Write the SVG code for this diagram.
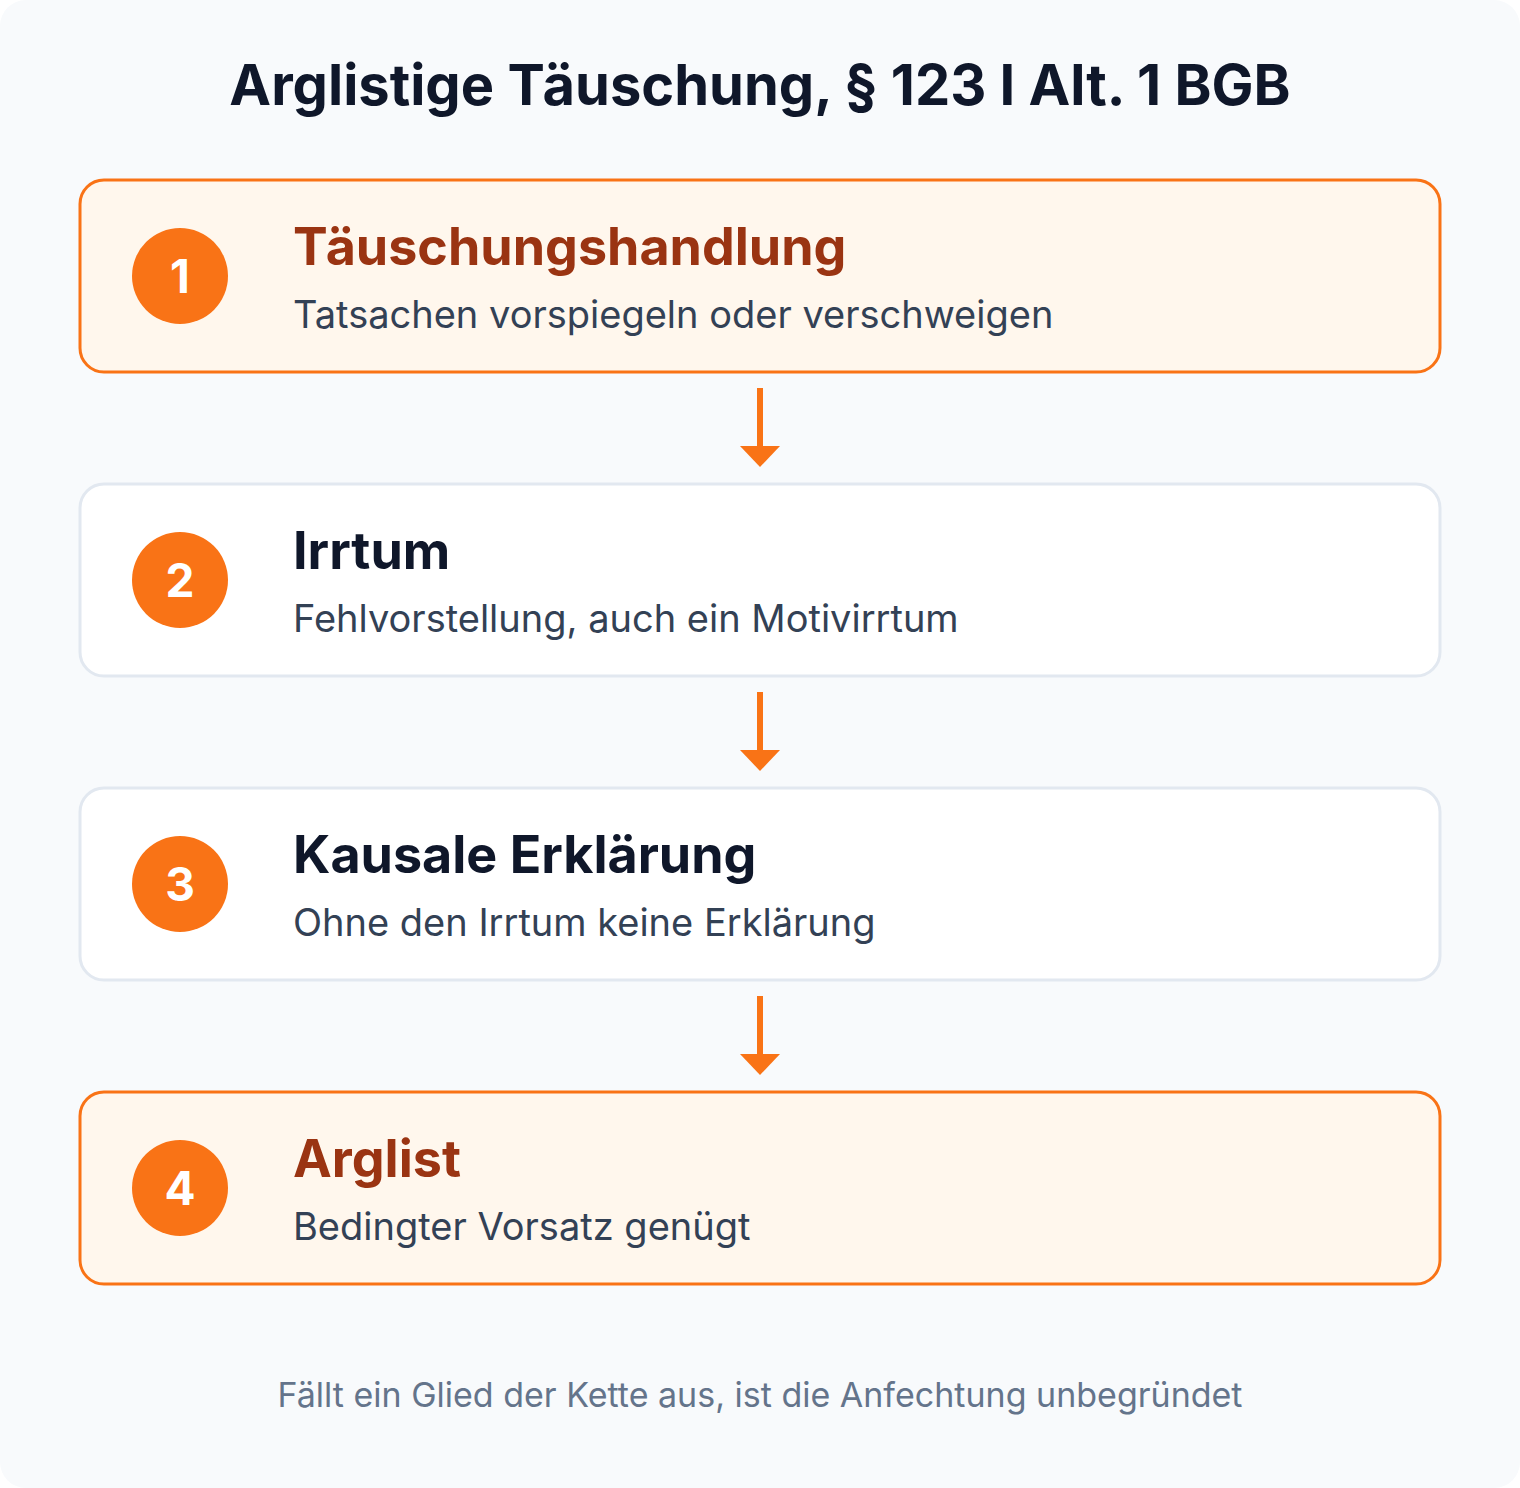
<svg xmlns="http://www.w3.org/2000/svg" width="1520" height="1488" viewBox="0 0 1520 1488">
<style>
.bg{fill:#f8fafc}
.hl{fill:#fff7ed;stroke:#f97316;stroke-width:3}
.pl{fill:#ffffff;stroke:#e2e8f0;stroke-width:3}
.dot{fill:#f97316}
.num{font-family:Inter,"Liberation Sans",sans-serif;font-weight:700;font-size:46px;fill:#ffffff;text-anchor:middle}
.h{font-family:Inter,"Liberation Sans",sans-serif;font-weight:700;font-size:52px}
.hh{fill:#9a3412}
.hp{fill:#0f172a}
.s{font-family:Inter,"Liberation Sans",sans-serif;font-size:38px;fill:#334155}
.title{font-family:Inter,"Liberation Sans",sans-serif;font-weight:700;font-size:56px;fill:#0f172a;text-anchor:middle}
.foot{font-family:Inter,"Liberation Sans",sans-serif;font-size:34px;fill:#64748b;text-anchor:middle}
.ln{stroke:#f97316;stroke-width:6;fill:none}
.ah{fill:#f97316}
</style>
<rect x="0" y="0" width="1520" height="1488" fill="#ffffff"/>
<rect class="bg" x="0" y="0" width="1520" height="1488" rx="26"/>
<text class="title" x="760" y="105">Arglistige Täuschung, § 123 I Alt. 1 BGB</text>
<g id="connectors">
<line class="ln" x1="760" y1="388" x2="760" y2="448"/>
<polygon class="ah" points="740,446 780,446 760,467"/>
<line class="ln" x1="760" y1="692" x2="760" y2="752"/>
<polygon class="ah" points="740,750 780,750 760,771"/>
<line class="ln" x1="760" y1="996" x2="760" y2="1056"/>
<polygon class="ah" points="740,1054 780,1054 760,1075"/>
</g>
<g id="node1">
<rect class="hl" x="80" y="180" width="1360" height="192" rx="24"/>
<circle class="dot" cx="180" cy="276" r="48"/>
<text class="num" x="180" y="293">1</text>
<text class="h hh" x="293" y="265">Täuschungshandlung</text>
<text class="s" x="293" y="328">Tatsachen vorspiegeln oder verschweigen</text>
</g>
<g id="node2">
<rect class="pl" x="80" y="484" width="1360" height="192" rx="24"/>
<circle class="dot" cx="180" cy="580" r="48"/>
<text class="num" x="180" y="597">2</text>
<text class="h hp" x="293" y="569">Irrtum</text>
<text class="s" x="293" y="632">Fehlvorstellung, auch ein Motivirrtum</text>
</g>
<g id="node3">
<rect class="pl" x="80" y="788" width="1360" height="192" rx="24"/>
<circle class="dot" cx="180" cy="884" r="48"/>
<text class="num" x="180" y="901">3</text>
<text class="h hp" x="293" y="873">Kausale Erklärung</text>
<text class="s" x="293" y="936">Ohne den Irrtum keine Erklärung</text>
</g>
<g id="node4">
<rect class="hl" x="80" y="1092" width="1360" height="192" rx="24"/>
<circle class="dot" cx="180" cy="1188" r="48"/>
<text class="num" x="180" y="1205">4</text>
<text class="h hh" x="293" y="1177">Arglist</text>
<text class="s" x="293" y="1240">Bedingter Vorsatz genügt</text>
</g>
<text class="foot" x="760" y="1407">Fällt ein Glied der Kette aus, ist die Anfechtung unbegründet</text>
</svg>
